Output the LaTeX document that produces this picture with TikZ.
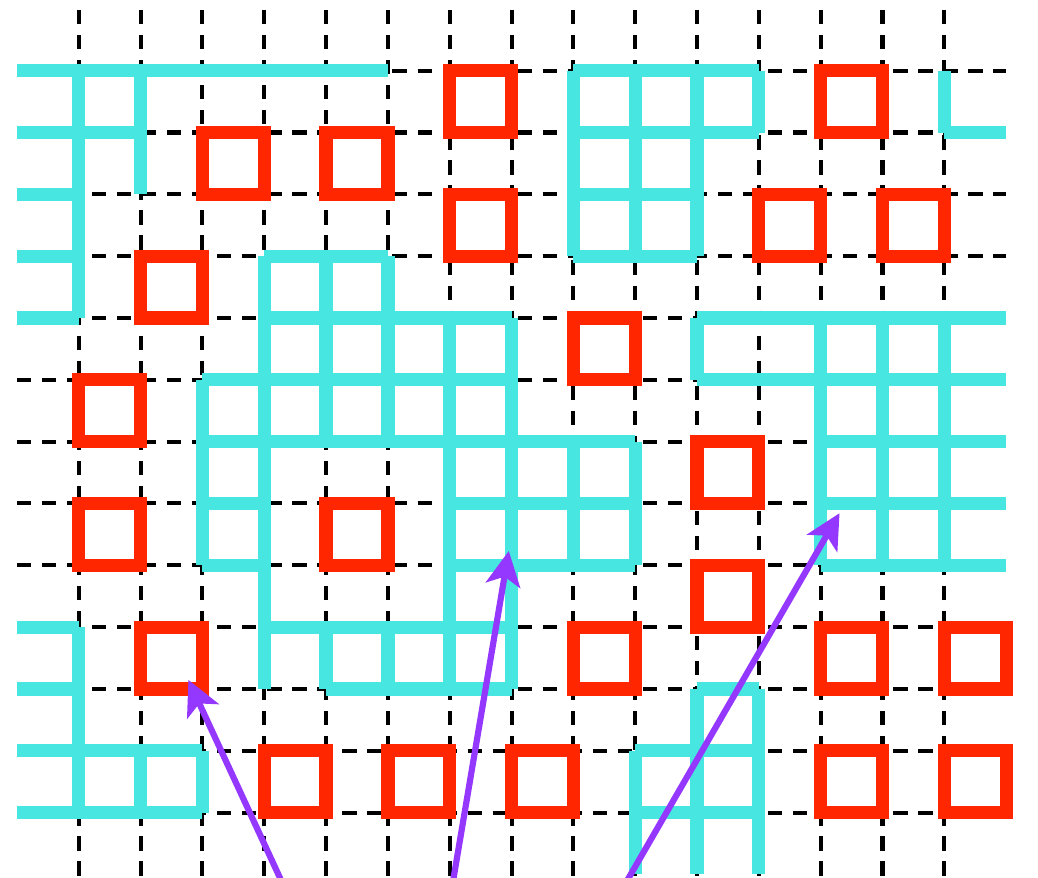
\documentclass[tikz,border=0pt]{standalone}
\usetikzlibrary{arrows.meta}
\definecolor{gridcyan}{HTML}{47E6E1}
\definecolor{boxred}{HTML}{FF2600}
\definecolor{arrowpurple}{HTML}{9437FF}
\begin{document}
\begin{tikzpicture}[x=1cm,y=-1cm,
  gridline/.style={line width=0.065cm, dash pattern=on 0.23cm off 0.175cm, black},
  cyanedge/.style={line width=0.215cm, gridcyan},
  redbox/.style={line width=0.215cm, boxred},
  pointer/.style={line width=0.1cm, arrowpurple, -{Stealth[length=0.56cm,width=0.56cm,inset=0.14cm]}}]
\useasboundingbox (-1.273,-1.143) rectangle (15.515,13.057);
\clip (-1.273,-1.143) rectangle (15.515,13.057);
% dashed grid
\foreach \c in {0,...,14} \draw[gridline] (\c,-0.98) -- (\c,13.2);
\foreach \r in {0,...,12} \draw[gridline] (-1,\r) -- (15,\r);
% horizontal cyan edges
\foreach \c/\r in {-1/0,0/0,1/0,2/0,3/0,4/0,8/0,9/0,10/0,
  -1/1,0/1,8/1,9/1,10/1,14/1,
  -1/2,8/2,9/2,
  -1/3,3/3,4/3,8/3,9/3,
  -1/4,3/4,4/4,5/4,6/4,10/4,11/4,12/4,13/4,14/4,
  2/5,3/5,4/5,5/5,6/5,10/5,11/5,12/5,13/5,14/5,
  2/6,3/6,4/6,5/6,6/6,7/6,8/6,12/6,13/6,14/6,
  2/7,6/7,7/7,8/7,12/7,13/7,14/7,
  2/8,6/8,7/8,8/8,12/8,13/8,14/8,
  -1/9,3/9,4/9,5/9,6/9,
  -1/10,4/10,5/10,6/10,10/10,
  -1/11,0/11,1/11,9/11,10/11,
  -1/12,0/12,1/12,9/12,10/12}
  \draw[cyanedge] (\c,\r) -- ++(1,0);
% vertical cyan edges
\foreach \c/\r in {0/0,0/1,0/2,0/3,0/9,0/10,0/11,
  1/0,1/1,1/11,
  2/5,2/6,2/7,2/11,
  3/3,3/4,3/5,3/6,3/7,3/8,3/9,
  4/3,4/4,4/5,4/9,
  5/3,5/4,5/5,5/9,
  6/4,6/5,6/6,6/7,6/8,6/9,
  7/4,7/5,7/6,7/7,7/8,7/9,
  8/0,8/1,8/2,8/6,8/7,
  9/0,9/1,9/2,9/6,9/7,9/11,9/12,
  10/0,10/1,10/2,10/4,10/10,10/11,10/12,
  11/0,11/10,11/11,11/12,
  12/4,12/5,12/6,12/7,
  13/4,13/5,13/6,13/7,
  14/0,14/4,14/5,14/6,14/7}
  \draw[cyanedge] (\c,\r) -- ++(0,1);
% red squares
\foreach \c/\r in {6/0,12/0,2/1,4/1,6/2,11/2,13/2,1/3,8/4,0/5,10/6,0/7,4/7,
  10/8,1/9,8/9,12/9,14/9,3/11,5/11,7/11,12/11,14/11}
  \draw[redbox] (\c,\r) rectangle ++(1,1);
% arrows
\coordinate (s1) at (3.461,13.5);
\coordinate (t1) at (1.774,9.853);
\coordinate (s2) at (5.988,13.5);
\coordinate (t2) at (6.956,7.768);
\coordinate (s3) at (8.638,13.5);
\coordinate (t3) at (12.305,7.157);
\draw[pointer] (s1) -- (t1);
\draw[pointer] (s2) -- (t2);
\draw[pointer] (s3) -- (t3);
\end{tikzpicture}
\end{document}
